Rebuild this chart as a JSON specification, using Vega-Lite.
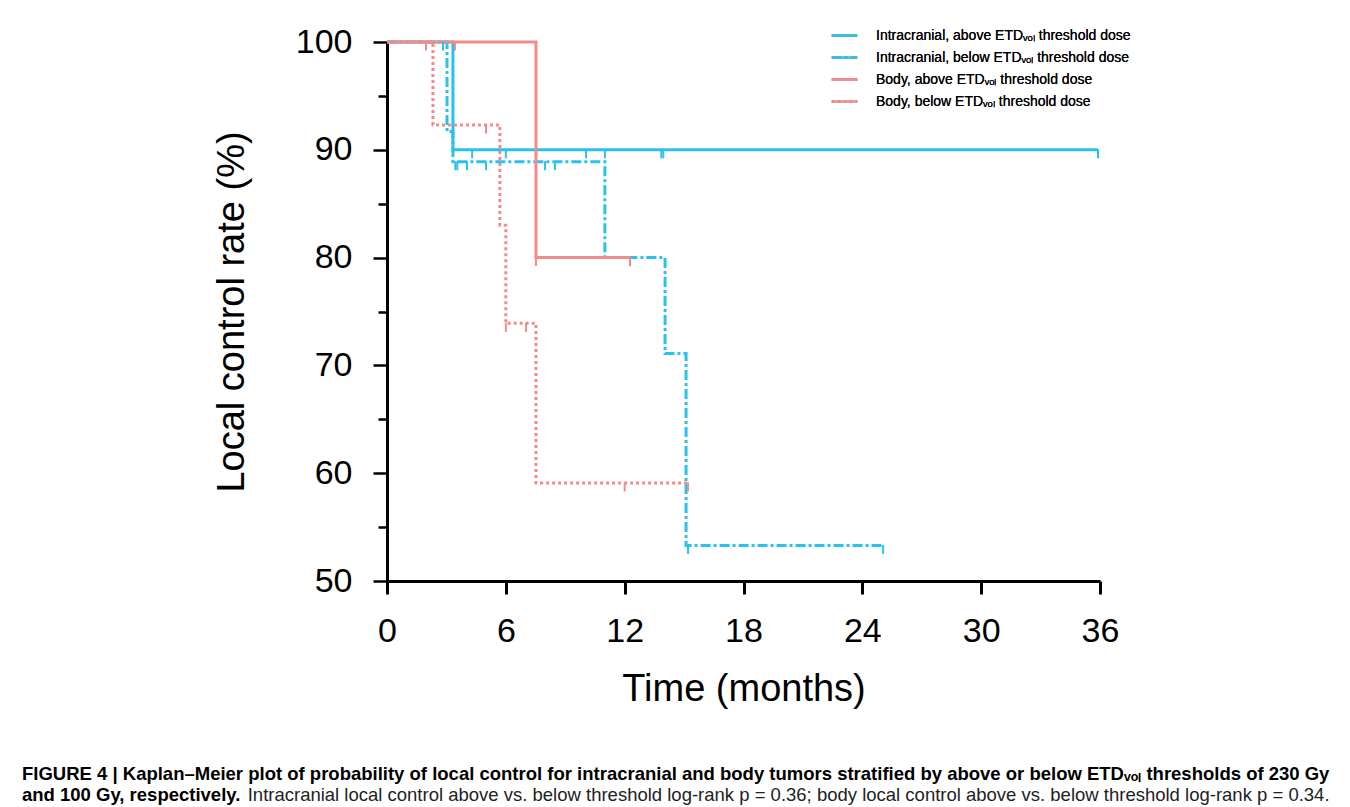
{
  "$schema": "https://vega.github.io/schema/vega-lite/v6.json",
  "width": 713,
  "height": 539,
  "autosize": "none",
  "padding": {"left": 387, "top": 42, "right": 250, "bottom": 226},
  "background": "white",
  "config": {
    "view": {"stroke": null},
    "font": "Liberation Sans",
    "axis": {"grid": false, "domainColor": "black", "tickColor": "black", "labelColor": "black", "titleColor": "black", "labelFont": "Liberation Sans", "titleFont": "Liberation Sans", "titleFontWeight": "normal"}
  },
  "title": {
    "text": ["FIGURE 4 | Kaplan–Meier plot of probability of local control for intracranial and body tumors stratified by above or below ETDᵥₒₗ thresholds of 230 Gy", "and 100 Gy, respectively."],
    "subtitle": "\u200B\u2003\u2003\u2003\u2003\u2003\u2003\u2003\u2003\u2003\u2003\u2003\u2003\u2009Intracranial local control above vs. below threshold log-rank p = 0.36; body local control above vs. below threshold log-rank p = 0.34.",
    "orient": "bottom",
    "anchor": "start",
    "frame": "group",
    "dx": -365,
    "offset": 57,
    "font": "Liberation Sans",
    "fontSize": 18.5,
    "fontWeight": "bold",
    "lineHeight": 21,
    "color": "black",
    "subtitleFont": "Liberation Sans",
    "subtitleFontSize": 18.5,
    "subtitleFontWeight": "normal",
    "subtitleColor": "#222222",
    "subtitlePadding": -18.5
  },
  "datasets": {
    "curves": [
      {"group": "Intracranial, above ETDᵥₒₗ threshold dose", "t": 0, "v": 100},
      {"group": "Intracranial, above ETDᵥₒₗ threshold dose", "t": 3.33, "v": 90},
      {"group": "Intracranial, above ETDᵥₒₗ threshold dose", "t": 35.9, "v": 90},
      {"group": "Intracranial, below ETDᵥₒₗ threshold dose", "t": 0, "v": 100},
      {"group": "Intracranial, below ETDᵥₒₗ threshold dose", "t": 3.03, "v": 91.7},
      {"group": "Intracranial, below ETDᵥₒₗ threshold dose", "t": 3.33, "v": 88.9},
      {"group": "Intracranial, below ETDᵥₒₗ threshold dose", "t": 11.0, "v": 80},
      {"group": "Intracranial, below ETDᵥₒₗ threshold dose", "t": 14.04, "v": 71.1},
      {"group": "Intracranial, below ETDᵥₒₗ threshold dose", "t": 15.1, "v": 53.3},
      {"group": "Intracranial, below ETDᵥₒₗ threshold dose", "t": 25.05, "v": 53.3},
      {"group": "Body, above ETDᵥₒₗ threshold dose", "t": 0, "v": 100},
      {"group": "Body, above ETDᵥₒₗ threshold dose", "t": 7.52, "v": 80},
      {"group": "Body, above ETDᵥₒₗ threshold dose", "t": 12.27, "v": 80},
      {"group": "Body, below ETDᵥₒₗ threshold dose", "t": 0, "v": 100},
      {"group": "Body, below ETDᵥₒₗ threshold dose", "t": 2.32, "v": 92.3},
      {"group": "Body, below ETDᵥₒₗ threshold dose", "t": 5.7, "v": 83.0},
      {"group": "Body, below ETDᵥₒₗ threshold dose", "t": 6.0, "v": 73.9},
      {"group": "Body, below ETDᵥₒₗ threshold dose", "t": 7.52, "v": 59.1},
      {"group": "Body, below ETDᵥₒₗ threshold dose", "t": 15.2, "v": 59.1}
    ],
    "censors": [
      {"group": "Intracranial, above ETDᵥₒₗ threshold dose", "t": 4.3, "v": 90},
      {"group": "Intracranial, above ETDᵥₒₗ threshold dose", "t": 6.0, "v": 90},
      {"group": "Intracranial, above ETDᵥₒₗ threshold dose", "t": 10.05, "v": 90},
      {"group": "Intracranial, above ETDᵥₒₗ threshold dose", "t": 11.0, "v": 90},
      {"group": "Intracranial, above ETDᵥₒₗ threshold dose", "t": 13.85, "v": 90},
      {"group": "Intracranial, above ETDᵥₒₗ threshold dose", "t": 13.95, "v": 90},
      {"group": "Intracranial, above ETDᵥₒₗ threshold dose", "t": 35.9, "v": 90},
      {"group": "Intracranial, below ETDᵥₒₗ threshold dose", "t": 2.83, "v": 100},
      {"group": "Intracranial, below ETDᵥₒₗ threshold dose", "t": 3.45, "v": 88.9},
      {"group": "Intracranial, below ETDᵥₒₗ threshold dose", "t": 3.55, "v": 88.9},
      {"group": "Intracranial, below ETDᵥₒₗ threshold dose", "t": 4.04, "v": 88.9},
      {"group": "Intracranial, below ETDᵥₒₗ threshold dose", "t": 5.0, "v": 88.9},
      {"group": "Intracranial, below ETDᵥₒₗ threshold dose", "t": 7.98, "v": 88.9},
      {"group": "Intracranial, below ETDᵥₒₗ threshold dose", "t": 8.48, "v": 88.9},
      {"group": "Intracranial, below ETDᵥₒₗ threshold dose", "t": 15.2, "v": 53.3},
      {"group": "Intracranial, below ETDᵥₒₗ threshold dose", "t": 25.05, "v": 53.3},
      {"group": "Body, above ETDᵥₒₗ threshold dose", "t": 3.43, "v": 100},
      {"group": "Body, above ETDᵥₒₗ threshold dose", "t": 7.52, "v": 80},
      {"group": "Body, above ETDᵥₒₗ threshold dose", "t": 12.27, "v": 80},
      {"group": "Body, below ETDᵥₒₗ threshold dose", "t": 1.97, "v": 100},
      {"group": "Body, below ETDᵥₒₗ threshold dose", "t": 5.0, "v": 92.3},
      {"group": "Body, below ETDᵥₒₗ threshold dose", "t": 6.0, "v": 73.9},
      {"group": "Body, below ETDᵥₒₗ threshold dose", "t": 7.02, "v": 73.9},
      {"group": "Body, below ETDᵥₒₗ threshold dose", "t": 12.0, "v": 59.1},
      {"group": "Body, below ETDᵥₒₗ threshold dose", "t": 15.2, "v": 59.1}
    ]
  },
  "layer": [
    {
      "data": {"name": "curves"},
      "mark": {"type": "line", "interpolate": "step-after", "strokeWidth": 3},
      "encoding": {
        "x": {
          "field": "t", "type": "quantitative",
          "scale": {"domain": [0, 36], "nice": false},
          "axis": {
            "title": "Time (months)", "values": [0, 6, 12, 18, 24, 30, 36],
            "labelFontSize": 34, "titleFontSize": 38, "domainWidth": 3, "tickWidth": 3, "tickSize": 13,
            "labelPadding": 20, "titlePadding": 22, "labelFlush": false
          }
        },
        "y": {
          "field": "v", "type": "quantitative",
          "scale": {"domain": [50, 100], "nice": false},
          "axis": {
            "title": "Local control rate (%)",
            "values": [50, 55, 60, 65, 70, 75, 80, 85, 90, 95, 100],
            "labelExpr": "datum.value % 10 === 0 ? datum.label : ''",
            "tickSize": {"condition": {"test": "datum.value % 10 === 0", "value": 14}, "value": 9},
            "labelFontSize": 34, "titleFontSize": 38, "domainWidth": 3, "tickWidth": 2.5,
            "labelPadding": 21, "titlePadding": 44, "labelFlush": false
          }
        },
        "color": {
          "field": "group", "type": "nominal",
          "scale": {
            "domain": ["Intracranial, above ETDᵥₒₗ threshold dose", "Intracranial, below ETDᵥₒₗ threshold dose", "Body, above ETDᵥₒₗ threshold dose", "Body, below ETDᵥₒₗ threshold dose"],
            "range": ["#29c2ef", "#29c2ef", "#f48a8a", "#f48a8a"]
          },
          "legend": {
            "title": null, "orient": "none", "legendX": 443, "legendY": -21,
            "symbolType": "stroke", "symbolSize": 660, "symbolStrokeWidth": 2.5,
            "labelFont": "Liberation Sans", "labelFontSize": 14, "labelColor": "black", "labelLimit": 0,
            "rowPadding": 0, "labelOffset": 17
          }
        },
        "strokeDash": {
          "field": "group", "type": "nominal",
          "scale": {
            "domain": ["Intracranial, above ETDᵥₒₗ threshold dose", "Intracranial, below ETDᵥₒₗ threshold dose", "Body, above ETDᵥₒₗ threshold dose", "Body, below ETDᵥₒₗ threshold dose"],
            "range": [[1, 0], [10, 3, 3, 3], [1, 0], [3, 3]]
          },
          "legend": {
            "title": null, "orient": "none", "legendX": 443, "legendY": -21,
            "symbolType": "stroke", "symbolSize": 660, "symbolStrokeWidth": 2.5,
            "labelFont": "Liberation Sans", "labelFontSize": 14, "labelColor": "black", "labelLimit": 0,
            "rowPadding": 0, "labelOffset": 17
          }
        }
      }
    },
    {
      "data": {"name": "censors"},
      "mark": {"type": "tick", "orient": "vertical", "size": 9, "thickness": 2, "yOffset": 4, "opacity": 1},
      "encoding": {
        "x": {"field": "t", "type": "quantitative"},
        "y": {"field": "v", "type": "quantitative"},
        "color": {"field": "group", "type": "nominal", "legend": null}
      }
    }
  ],
  "resolve": {"legend": {"color": "independent"}}
}
